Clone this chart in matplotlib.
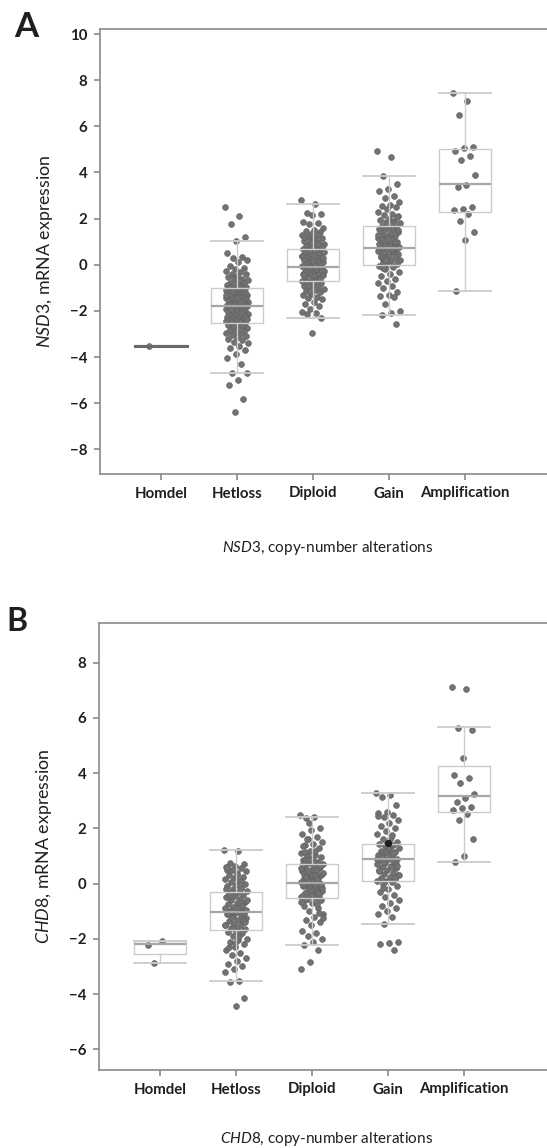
import numpy as np
import matplotlib
matplotlib.use("Agg")
import matplotlib.pyplot as plt

# =====================================================
# Data
# =====================================================

categories = ["Homdel", "Hetloss", "Diploid", "Gain", "Amplification"]

# --- Panel A: NSD3 ---
homdel_a = [-3.54]
hetloss_a = [2.49, 2.13, 1.77, 1.19, 1.01, 0.52, 0.35, 0.28, 0.2, 0.1, -0.05, -0.12,
             -0.2, -0.25, -0.3, -0.38, -0.42, -0.5, -0.55, -0.6, -0.62, -0.68, -0.72,
             -0.78, -0.8, -0.85, -0.88, -0.9, -0.95, -0.98, -1.0, -1.02, -1.05, -1.08,
             -1.1, -1.12, -1.15, -1.18, -1.2, -1.22, -1.25, -1.28, -1.3, -1.32, -1.35,
             -1.38, -1.4, -1.42, -1.45, -1.48, -1.5, -1.52, -1.55, -1.58, -1.6, -1.62,
             -1.65, -1.68, -1.7, -1.72, -1.75, -1.76, -1.78, -1.8, -1.82, -1.85, -1.88,
             -1.9, -1.92, -1.95, -1.98, -2.0, -2.02, -2.05, -2.08, -2.1, -2.12, -2.15,
             -2.18, -2.2, -2.22, -2.25, -2.28, -2.3, -2.32, -2.35, -2.38, -2.4, -2.42,
             -2.45, -2.48, -2.5, -2.52, -2.55, -2.6, -2.65, -2.7, -2.75, -2.8, -2.82,
             -2.85, -2.9, -2.95, -3.0, -3.05, -3.1, -3.15, -3.2, -3.28, -3.35, -3.4,
             -3.5, -3.6, -3.7, -3.85, -4.04, -4.3, -4.68, -4.68, -5.01, -5.23, -5.80,
             -6.38, -1.3, -1.6, -1.9, -2.2, -1.45, -1.75, -2.05, -1.15, -2.35, -0.95]
diploid_a = [2.82, 2.64, 2.25, 2.2, 2.15, 1.85, 1.8, 1.75, 1.6, 1.5, 1.45, 1.4, 1.35,
             1.3, 1.25, 1.2, 1.15, 1.1, 1.05, 1.0, 0.95, 0.9, 0.85, 0.8, 0.78, 0.75,
             0.7, 0.68, 0.65, 0.6, 0.55, 0.5, 0.48, 0.45, 0.4, 0.35, 0.3, 0.28, 0.25,
             0.2, 0.15, 0.12, 0.1, 0.05, 0.02, 0.0, -0.02, -0.05, -0.08, -0.1, -0.12,
             -0.15, -0.18, -0.2, -0.22, -0.25, -0.28, -0.3, -0.32, -0.35, -0.38, -0.4,
             -0.42, -0.45, -0.5, -0.55, -0.6, -0.65, -0.7, -0.72, -0.75, -0.8, -0.85,
             -0.9, -0.95, -1.0, -1.05, -1.1, -1.15, -1.2, -1.25, -1.3, -1.4, -1.45,
             -1.5, -1.6, -1.7, -1.8, -1.9, -2.05, -2.1, -2.15, -2.3, -2.95,
             1.2, 0.9, 0.6, 0.3, 0.0, -0.3, -0.6, 1.0, 0.4, -0.2, -0.9, 0.75, 0.15,
             -0.45, 1.3, -1.15, 0.55, -0.05]
gain_a = [4.92, 4.65, 3.83, 3.5, 3.3, 3.2, 3.0, 2.9, 2.7, 2.6, 2.55, 2.5, 2.4, 2.3,
          2.2, 2.15, 2.1, 2.0, 1.95, 1.9, 1.85, 1.8, 1.75, 1.7, 1.65, 1.6, 1.55, 1.5,
          1.45, 1.4, 1.35, 1.3, 1.25, 1.2, 1.15, 1.1, 1.05, 1.0, 0.95, 0.9, 0.85, 0.8,
          0.75, 0.72, 0.7, 0.68, 0.65, 0.6, 0.55, 0.5, 0.45, 0.4, 0.35, 0.3, 0.25,
          0.2, 0.15, 0.1, 0.05, 0.0, -0.05, -0.1, -0.2, -0.3, -0.4, -0.5, -0.6, -0.7,
          -0.8, -0.9, -1.0, -1.2, -1.3, -1.35, -1.4, -1.7, -2.0, -2.1, -2.17, -2.55,
          1.2, 0.9, 0.6, 0.3, 1.5, 0.8, 0.4, 1.0, 0.2, 1.3, 0.7, -0.15, 2.05, 1.1]
amp_a = [7.46, 7.10, 6.48, 5.10, 5.06, 4.93, 4.71, 4.52, 3.90, 3.46, 3.38, 2.49,
         2.42, 2.38, 2.20, 1.88, 1.41, 1.07, -1.13]

# box statistics as drawn: (whislo, q1, med, q3, whishi)
stats_a = [(-3.54, -3.54, -3.54, -3.54, -3.54),
           (-4.68, -2.53, -1.78, -1.01, 1.01),
           (-2.30, -0.71, -0.10, 0.68, 2.64),
           (-2.17, 0.00, 0.71, 1.67, 3.83),
           (-1.12, 2.30, 3.48, 5.01, 7.46)]

# --- Panel B: CHD8 ---
homdel_b = [-2.23, -2.09, -2.88]
hetloss_b = [1.21, 1.20, 0.75, 0.7, 0.65, 0.6, 0.55, 0.5, 0.45, 0.4, 0.3, 0.25, 0.2,
             0.15, 0.1, 0.05, 0.0, -0.05, -0.1, -0.15, -0.2, -0.25, -0.3, -0.35, -0.4,
             -0.45, -0.5, -0.55, -0.6, -0.65, -0.7, -0.75, -0.8, -0.85, -0.9, -0.95,
             -1.0, -1.02, -1.05, -1.1, -1.15, -1.2, -1.25, -1.3, -1.35, -1.4, -1.45,
             -1.5, -1.55, -1.6, -1.65, -1.7, -1.75, -1.8, -1.9, -2.0, -2.05, -2.1,
             -2.2, -2.3, -2.4, -2.5, -2.6, -2.7, -2.8, -2.9, -3.0, -3.1, -3.2, -3.52,
             -3.55, -4.16, -4.43, 0.5, 0.1, -0.3, -0.6, -0.9, -1.1, -1.3, -1.6, -0.2,
             -0.7, -1.0, -1.4, 0.3, -0.5, -0.8, -1.2, -1.5, -1.9, -0.4, -1.05, -2.15,
             0.6, -0.15, -1.25, -0.95, -1.7, -2.3]
diploid_b = [2.48, 2.41, 2.36, 2.0, 1.95, 1.8, 1.7, 1.6, 1.5, 1.45, 1.4, 1.3, 1.2,
             1.1, 1.05, 1.0, 0.95, 0.9, 0.85, 0.8, 0.75, 0.7, 0.65, 0.6, 0.55, 0.5,
             0.45, 0.4, 0.35, 0.3, 0.25, 0.2, 0.15, 0.1, 0.05, 0.02, 0.0, -0.02, -0.05,
             -0.1, -0.15, -0.2, -0.25, -0.3, -0.35, -0.4, -0.45, -0.5, -0.52, -0.55,
             -0.6, -0.7, -0.8, -0.9, -1.0, -1.1, -1.2, -1.3, -1.4, -1.5, -1.7, -1.8,
             -1.9, -2.0, -2.1, -2.23, -2.4, -2.83, -3.10,
             1.2, 0.9, 0.6, 0.3, 0.0, -0.3, 1.0, 0.4, -0.2, -0.6, 0.75, 0.15, -0.45,
             0.5, 0.2, -0.1, 0.8, 0.35, -0.35, 0.1, 0.55, -0.05, 0.25, 0.65, -0.25,
             1.35, -0.75, 0.45, -0.15, 0.05, 1.15, -1.05, 0.85, -0.65, 0.3, 1.6, 0.0,
             -0.4, 0.7, 0.15, 2.2, -1.25]
gain_b = [3.30, 3.22, 3.15, 2.85, 2.6, 2.55, 2.5, 2.4, 2.3, 2.2, 2.1, 2.0, 1.9, 1.8,
          1.7, 1.6, 1.5, 1.45, 1.42, 1.4, 1.35, 1.3, 1.25, 1.2, 1.15, 1.1, 1.05, 1.0,
          0.95, 0.9, 0.88, 0.85, 0.8, 0.75, 0.7, 0.65, 0.6, 0.55, 0.5, 0.45, 0.4,
          0.35, 0.3, 0.25, 0.2, 0.15, 0.1, 0.08, 0.05, 0.0, -0.1, -0.2, -0.3, -0.4,
          -0.5, -0.6, -0.7, -0.8, -0.9, -1.0, -1.1, -1.2, -1.46, -2.10, -2.15, -2.20,
          -2.40, 1.2, 0.9, 0.6, 1.0, 0.7, 1.3, 0.5, 1.1, 0.8, 0.3, 1.6, 0.95, 0.2,
          1.4, 2.45, 1.75, -0.15, 0.65]
amp_b = [7.12, 7.04, 5.64, 5.57, 4.55, 3.95, 3.84, 3.63, 3.23, 3.11, 2.96, 2.77,
         2.75, 2.68, 2.51, 2.30, 1.62, 0.99, 0.79]
gain_b_mark = [1.46]   # darker point drawn on top in the Gain group

stats_b = [(-2.88, -2.56, -2.19, -2.06, -2.06),
           (-3.52, -1.67, -1.02, -0.30, 1.21),
           (-2.23, -0.52, 0.02, 0.70, 2.41),
           (-1.46, 0.08, 0.90, 1.42, 3.30),
           (0.79, 2.60, 3.19, 4.26, 5.67)]

# =====================================================
# Style
# =====================================================

plt.rcParams['font.family'] = ['Lato', 'DejaVu Sans']
plt.rcParams['mathtext.fontset'] = 'custom'
plt.rcParams['mathtext.rm'] = 'Lato'
plt.rcParams['mathtext.it'] = 'Lato:italic'

spine_col = "#8a8a8a"
box_col = "#cccccc"
med_col = "#a6a6a6"
dot_col = "#727272"
text_col = "#1f1f1f"


def jitter(n, width=0.15):
    # deterministic spread (golden ratio sequence)
    k = np.arange(n)
    return width * (((k * 0.6180339887) % 1.0) * 2 - 1)


def draw_panel(ax, groups, stats, ylim, yticks, gene, xpad):
    pos = np.arange(len(groups))
    for p, vals in zip(pos, groups):
        vals = np.asarray(vals)
        ax.scatter(p + jitter(len(vals)), vals, s=18, color=dot_col,
                   edgecolors="#5f5f5f", linewidths=0.4, zorder=2)

    bstats = []
    for lo, q1, med, q3, hi in stats:
        bstats.append(dict(whislo=lo, q1=q1, med=med, q3=q3, whishi=hi, fliers=[]))
    ax.bxp(bstats, positions=pos, widths=0.68, showfliers=False,
           boxprops=dict(color=box_col, linewidth=1.0),
           whiskerprops=dict(color=box_col, linewidth=1.0),
           capprops=dict(color=box_col, linewidth=1.3),
           medianprops=dict(color=med_col, linewidth=1.6),
           capwidths=0.68, zorder=3)

    ax.set_xlim(-0.8, 5.2)
    ax.set_ylim(*ylim)
    ax.set_yticks(yticks)
    ax.set_xticks(pos)
    ax.set_xticklabels(categories)
    for lab in ax.get_xticklabels() + ax.get_yticklabels():
        lab.set_fontweight('bold')
        lab.set_fontsize(10.8)
        lab.set_color(text_col)
    ax.tick_params(direction='out', length=4, width=1.2, color=spine_col, pad=5)
    for s in ax.spines.values():
        s.set_color(spine_col)
        s.set_linewidth(1.2)
    ax.spines['right'].set_visible(False)
    ax.set_ylabel(r'$\it{' + gene + '}$, mRNA expression', fontsize=12.8,
                  labelpad=11, color=text_col)
    ax.set_xlabel(r'$\it{' + gene + '}$, copy-number alterations', fontsize=11,
                  labelpad=xpad, color=text_col)


fig = plt.figure(figsize=(5.47, 11.48), dpi=100)

ax_a = fig.add_axes([100 / 547, 1 - 474 / 1148, 456 / 547, 445 / 1148])
draw_panel(ax_a, [homdel_a, hetloss_a, diploid_a, gain_a, amp_a], stats_a,
           (-9.07, 10.22), [-8, -6, -4, -2, 0, 2, 4, 6, 8, 10], "NSD3", 28)
# Homdel single sample shown as a dark bar
ax_a.plot([-0.34, 0.34], [stats_a[0][2]] * 2, color="#6a6a6a", lw=2.2, zorder=4)

ax_b = fig.add_axes([99 / 547, 1 - 1070 / 1148, 456 / 547, 447 / 1148])
draw_panel(ax_b, [homdel_b, hetloss_b, diploid_b, gain_b, amp_b], stats_b,
           (-6.75, 9.44), [-6, -4, -2, 0, 2, 4, 6, 8], "CHD8", 24)
ax_b.scatter([3], gain_b_mark, s=18, color="#1e1e1e", zorder=5)

fig.text(14 / 547, 1 - 11 / 1148, "A", fontsize=25, fontweight='bold', va='top',
         color=text_col)
fig.text(6 / 547, 1 - 607 / 1148, "B", fontsize=23, fontweight='bold', va='top',
         color=text_col)

plt.savefig("out.png", dpi=100)
